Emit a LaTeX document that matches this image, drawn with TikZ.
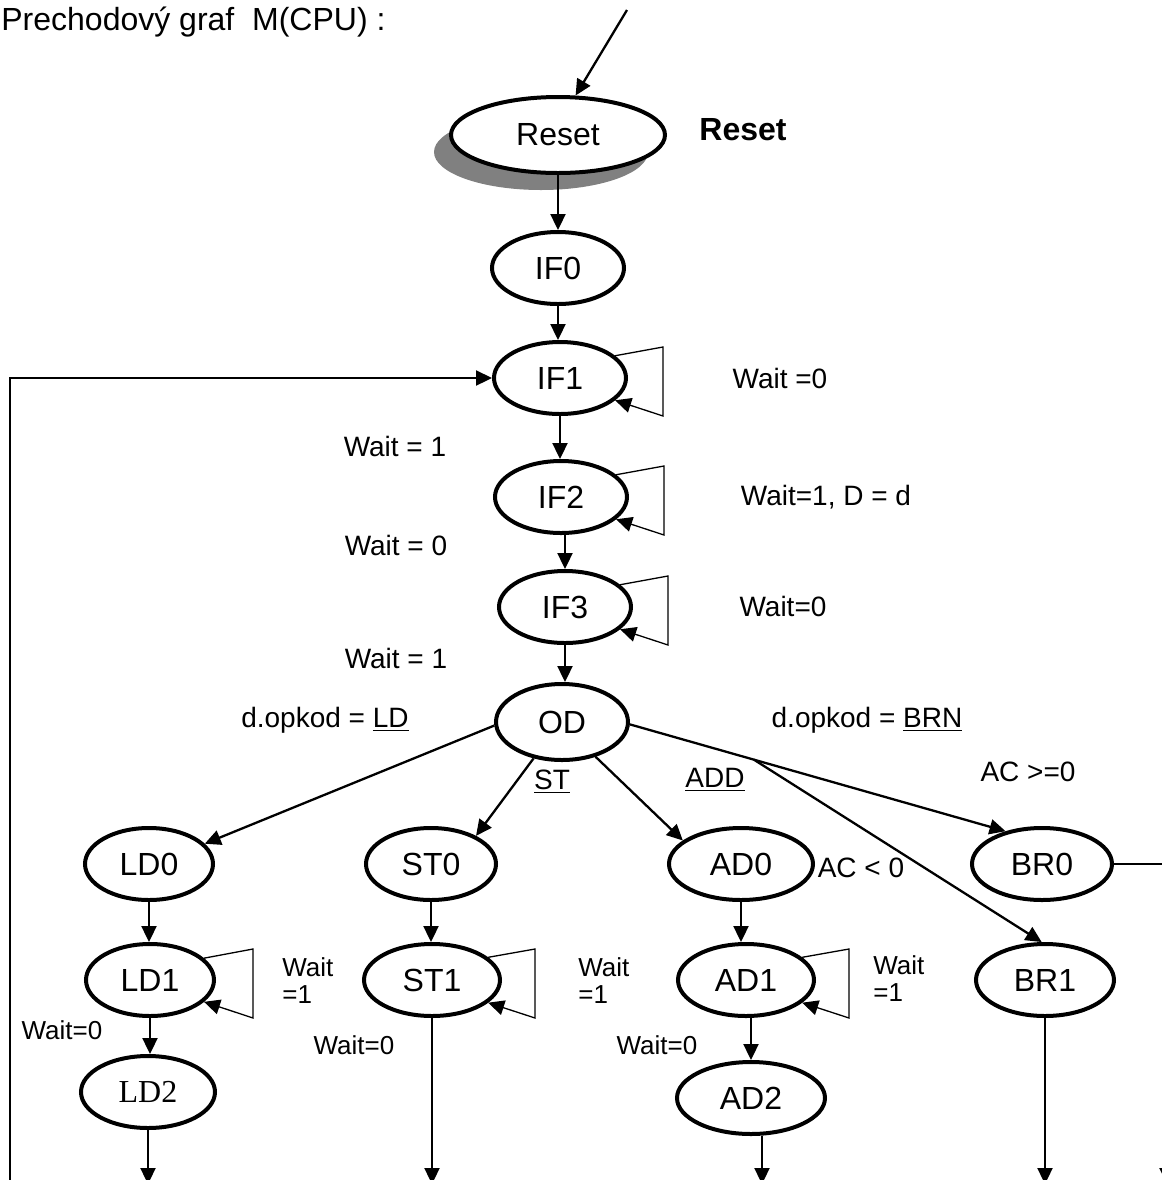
\documentclass[tikz,border=0pt]{standalone}
\usepackage{fontspec}
\setmainfont{Liberation Sans}
\newfontfamily\timesfont{Liberation Serif}
\usetikzlibrary{arrows.meta,shapes.geometric,shadows}

\begin{document}
\begin{tikzpicture}[x=0.5pt,y=-0.5pt,
    stav/.style={ellipse,draw=black,line width=2pt,fill=white,inner sep=0pt,minimum width=66pt,minimum height=36pt,font=\fontsize{16}{18}\selectfont},
    prech/.style={line width=1.15pt,-{Triangle[length=8pt,width=7.5pt]}},
    slucka/.style={line width=0.65pt,-{Triangle[length=8pt,width=7.5pt]}},
    popis/.style={inner sep=0pt,font=\fontsize{14}{16}\selectfont},
    maly/.style={inner sep=0pt,align=left,font=\fontsize{13}{13.5}\selectfont}]
\useasboundingbox (0,0) rectangle (1162,1180);
\clip (0,0) rectangle (1162,1180);

\node[inner sep=0pt,anchor=west,font=\fontsize{16}{18}\selectfont] (nadpis) at (1,22) {Prechodový graf~~M(CPU) :};

% stavy
\node[stav,minimum width=107pt,minimum height=38pt,drop shadow={shadow xshift=-8.5pt,shadow yshift=-8.5pt,fill=black!50,opacity=1}] (Reset) at (558,135) {Reset};
\node[inner sep=0pt,font=\bfseries\fontsize{16}{18}\selectfont] (resetpopis) at (743,130) {Reset};
\node[stav] (IF0) at (558,268) {IF0};
\node[stav] (IF1) at (560,378) {IF1};
\node[stav] (IF2) at (561,497) {IF2};
\node[stav] (IF3) at (565,607) {IF3};
\node[stav,minimum height=38pt] (OD) at (562,722) {OD};

\node[stav,minimum width=64pt] (LD0) at (149,864) {LD0};
\node[stav,minimum width=65pt] (ST0) at (431,864) {ST0};
\node[stav,minimum width=72pt] (AD0) at (741,864) {AD0};
\node[stav,minimum width=70pt] (BR0) at (1042,864) {BR0};

\node[stav,minimum width=64pt] (LD1) at (150,980) {LD1};
\node[stav,minimum width=68pt] (ST1) at (432,980) {ST1};
\node[stav,minimum width=68pt] (AD1) at (746,980) {AD1};
\node[stav,minimum width=69pt] (BR1) at (1045,980) {BR1};

\node[stav,minimum width=67pt,font=\timesfont\fontsize{16}{18}\selectfont] (LD2) at (148,1092) {LD2};
\node[stav,minimum width=74pt] (AD2) at (751,1098) {AD2};

% volne konce
\coordinate (vstup) at (627,10);
\coordinate (spat) at (10,1185);
\coordinate (vpravo) at (1167,1184);
\coordinate (dolLD) at (148,1184);
\coordinate (dolST) at (432,1184);
\coordinate (dolAD) at (762,1184);
\coordinate (dolBR) at (1045,1184);

% prechody
\draw[prech] (vstup) -- (Reset.66);
\draw[prech] (Reset.south) -- (Reset.south |- IF0.north);
\draw[prech] (IF0.south) -- (IF0.south |- IF1.north);
\draw[prech] (IF1.south) -- (IF1.south |- IF2.north);
\draw[prech] (IF3.north |- IF2.south) -- (IF3.north);
\draw[prech] (IF3.south) -- (IF3.south |- OD.north);
\draw[prech] (spat) |- (IF1.west);

\draw[prech] (OD.183) -- (LD0.20);
\draw[prech] (OD.232) -- (ST0.32);
\draw[prech] (OD.314) -- (AD0.158);
\draw[prech] (OD.358) -- coordinate[pos=0.33] (odbocka) (BR0.138);
\draw[prech] (odbocka) -- (BR1.95);
\draw[prech] (BR0.east) -| (vpravo);

\draw[prech] (LD0.south) -- (LD0.south |- LD1.north);
\draw[prech] (LD1.south) -- (LD1.south |- LD2.north);
\draw[prech] (ST0.south) -- (ST0.south |- ST1.north);
\draw[prech] (AD0.south) -- (AD0.south |- AD1.north);
\draw[prech] (AD2.north |- AD1.south) -- (AD2.north);

\draw[prech] (LD2.south) -- (dolLD);
\draw[prech] (ST1.south) -- (dolST);
\draw[prech] ([xshift=5.5pt]AD2.south) -- (dolAD);
\draw[prech] (BR1.south) -- (dolBR);

% slucky
\foreach \n in {IF1,IF2,IF3,LD1,ST1,AD1}
  \draw[slucka] (\n.22) -- ([shift={(103,-31)}]\n.center) -- ([shift={(103,38)}]\n.center) -- (\n.338);

% popisy
\node[popis] (w1) at (395,446) {Wait = 1};
\node[popis] (w2) at (396,545) {Wait = 0};
\node[popis] (w3) at (396,658) {Wait = 1};
\node[popis] (w4) at (780,378) {Wait =0};
\node[popis] (w5) at (826,497) {Wait=1, D = d};
\node[popis] (w6) at (783,606) {Wait=0};
\node[popis] (opLD) at (325,720) {d.opkod = \underline{LD}};
\node[popis] (opBRN) at (867,720) {d.opkod = \underline{BRN}};
\node[popis] (opST) at (552,782) {\underline{ST}};
\node[popis] (opADD) at (715,780) {\underline{ADD}};
\node[popis] (acp) at (1028,772) {AC >=0};
\node[popis] (acn) at (861,868) {AC < 0};
\node[maly,anchor=west] (wLD) at (282,981) {Wait\\=1};
\node[maly,anchor=west] (wST) at (578,981) {Wait\\=1};
\node[maly,anchor=west] (wAD) at (873,979) {Wait\\=1};
\node[maly] (w0LD) at (62,1030) {Wait=0};
\node[maly] (w0ST) at (354,1045) {Wait=0};
\node[maly] (w0AD) at (657,1045) {Wait=0};
\end{tikzpicture}
\end{document}
